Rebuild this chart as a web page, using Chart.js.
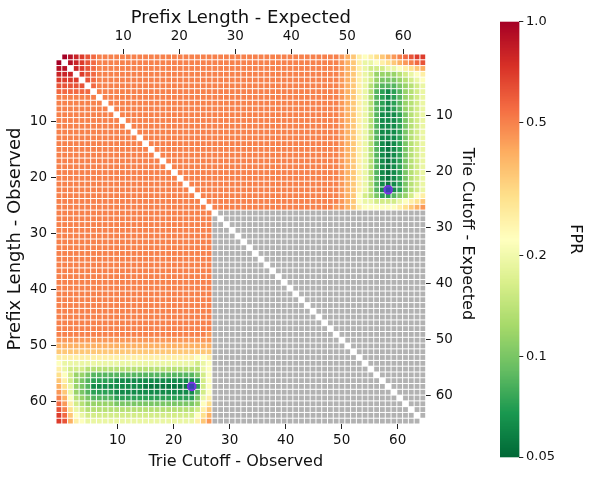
<!DOCTYPE html>
<html><head><meta charset="utf-8">
<script src="https://cdn.jsdelivr.net/npm/chart.js@4.4.0/dist/chart.umd.min.js"></script>
<style>
html,body{margin:0;padding:0;background:#fff;}
#wrap{position:relative;width:598px;height:481px;overflow:hidden;}
#main{position:absolute;left:0;top:0;}
#cbar{position:absolute;left:490px;top:0;}
</style></head><body>
<div id="wrap"><canvas id="main" width="598" height="481"></canvas><canvas id="cbar" width="108" height="481"></canvas></div>
<script>
// ---------------- data ----------------
// FPR levels: each character in the rows stands for one value
const levelChars  = "ABCDEFonmlkjihgfedcbaz";
const levelValues = [1.0,0.9,0.8,0.7,0.62,0.56,0.5,0.45,0.4,0.35,0.3,0.26,0.22,0.19,0.16,0.135,0.115,0.1,0.085,0.072,0.062,0.055];
// '.' = empty (white) cell, '#' = masked (grey) cell; x{n} = x repeated n times
const heatRows = [
".ABCDEFo{42}nmljijklmnoFEDD",
"A.BCDEFo{42}nmljhhijklmnoFE",
"BB.CDEFo{42}nmljhggghhijklm",
"CCC.DEFo{42}nmljhgeeeefghij",
"DDDD.EFo{42}nmljhgedddefghi",
"EEEEE.Fo{42}nmljhfdcccdefgh",
"FFFFFF.o{42}nmljhfcbabcefgh",
"o{7}.o{41}nmljhfcbabcefgh",
"o{8}.o{40}nmljhfcbabcefgh",
"o{9}.o{39}nmljhfcbabcefgh",
"o{10}.o{38}nmljhfcaaabdfgh",
"o{11}.o{37}nmljhfcaaabdfgh",
"o{12}.o{36}nmljhfcaaabdfgh",
"o{13}.o{35}nmljhfcaaabdfgh",
"o{14}.o{34}nmljhfcaaabdfgh",
"o{15}.o{33}nmljhfcazabdfgh",
"o{16}.o{32}nmljhfcazabdfgh",
"o{17}.o{31}nmljhfcazabdfgh",
"o{18}.o{30}nmljhfcazabdfgh",
"o{19}.o{29}nmljhfcazabdfgh",
"o{20}.o{28}nmljhfcazabdfgh",
"o{21}.o{27}nmljhfcazabdfgh",
"o{22}.o{26}nmljhfcazabdfgh",
"o{23}.o{25}nmljhfcazabdfgh",
"o{24}.o{24}nmligfdbbcdegij",
"o{25}.o{23}nmlihhgggghijkl",
"o{26}.o{21}nnmljiiiiiijklmn",
"o{27}.#{36}",
"o{27}#{1}.#{35}",
"o{27}#{2}.#{34}",
"o{27}#{3}.#{33}",
"o{27}#{4}.#{32}",
"o{27}#{5}.#{31}",
"o{27}#{6}.#{30}",
"o{27}#{7}.#{29}",
"o{27}#{8}.#{28}",
"o{27}#{9}.#{27}",
"o{27}#{10}.#{26}",
"o{27}#{11}.#{25}",
"o{27}#{12}.#{24}",
"o{27}#{13}.#{23}",
"o{27}#{14}.#{22}",
"o{27}#{15}.#{21}",
"o{27}#{16}.#{20}",
"o{27}#{17}.#{19}",
"o{27}#{18}.#{18}",
"o{27}#{19}.#{17}",
"o{27}#{20}.#{16}",
"o{26}n#{21}.#{15}",
"n{27}#{22}.#{14}",
"m{27}#{23}.#{13}",
"l{27}#{24}.#{12}",
"j{24}iij#{25}.#{11}",
"ih{23}ghi#{26}.#{10}",
"jhgggf{20}hi#{27}.#{9}",
"kigeedc{18}dgi#{28}.#{8}",
"ljgedcbbbba{14}bgi#{29}.#{7}",
"mkhedca{9}z{9}bgi#{30}.#{6}",
"nlhedcbbbba{14}cgi#{31}.#{5}",
"omifedccccb{14}dhj#{32}.#{4}",
"Fnjgfeeeeed{14}eik#{33}.#{3}",
"Eokhgf{19}gjl#{34}.#{2}",
"DFlihg{19}ikm#{35}.#{1}",
"DEmjih{19}jln#{36}."
];
const markerRows = [23, 57];
const markerCols = [57, 23];
const axisTicks = [10, 20, 30, 40, 50, 60];
const cbTicks = [1.0, 0.5, 0.2, 0.1, 0.05];
const cbTickLabels = ["1.0", "0.5", "0.2", "0.1", "0.05"];
const topTitle = "Prefix Length - Expected";
const leftTitle = "Prefix Length - Observed";
const bottomTitle = "Trie Cutoff - Observed  ";
const rightTitle = "Trie Cutoff - Expected  ";
const cbTitle = "FPR";
const vmin = 0.05, vmax = 1.0;

// ---------------- build matrix ----------------
const matrix = heatRows.map((s, i) => {
  const row = s.replace(/(.)\{(\d+)\}/g, (m, ch, n) => ch.repeat(+n));
  if (row.length !== 64) console.error('row', i, 'length', row.length);
  return Array.from(row).map(ch => {
    if (ch === '.') return null;
    if (ch === '#') return 'mask';
    return levelValues[levelChars.indexOf(ch)];
  });
});

// RdYlGn colour map (reversed) on a log norm
const rdylgn = ["#a50026","#d73027","#f46d43","#fdae61","#fee08b","#ffffbf","#d9ef8b","#a6d96a","#66bd63","#1a9850","#006837"];
const rgbStops = rdylgn.map(h => [parseInt(h.slice(1,3),16),parseInt(h.slice(3,5),16),parseInt(h.slice(5,7),16)]);
function colorFor(v) {
  let p = (Math.log(v) - Math.log(vmin)) / (Math.log(vmax) - Math.log(vmin));
  p = Math.min(1, Math.max(0, p));
  const t = (1 - p) * (rgbStops.length - 1);
  const i = Math.min(rgbStops.length - 2, Math.floor(t));
  const f = t - i;
  const a = rgbStops[i], b = rgbStops[i+1];
  return `rgb(${Math.round(a[0]+(b[0]-a[0])*f)},${Math.round(a[1]+(b[1]-a[1])*f)},${Math.round(a[2]+(b[2]-a[2])*f)})`;
}
const maskColor = '#b2b2b2';
const gap = 0.5;

Chart.defaults.font.family = "'DejaVu Sans', sans-serif";
Chart.defaults.color = '#111';

const heatPlugin = {
  id: 'heat',
  beforeDatasetsDraw(chart) {
    const ctx = chart.ctx, xs = chart.scales.xi, ys = chart.scales.yi;
    ctx.save();
    matrix.forEach((row, r) => row.forEach((v, c) => {
      if (v === null) return;
      const x0 = xs.getPixelForValue(c), x1 = xs.getPixelForValue(c + 1);
      const y0 = ys.getPixelForValue(r), y1 = ys.getPixelForValue(r + 1);
      ctx.fillStyle = v === 'mask' ? maskColor : colorFor(v);
      ctx.fillRect(Math.min(x0,x1) + gap, Math.min(y0,y1) + gap, Math.abs(x1-x0) - 2*gap, Math.abs(y1-y0) - 2*gap);
    }));
    ctx.restore();
  }
};

const tickFont = {size: 13.5};
const prefixFont = {size: 18};
const trieFont = {size: 16};
const gridOpts = {display: true, drawOnChartArea: false, drawTicks: true, tickLength: 5, color: '#222', lineWidth: 1};
const fixTicks = s => { s.ticks = axisTicks.map(v => ({value: v})); };

new Chart(document.getElementById('main'), {
  type: 'scatter',
  data: {
    datasets: [{
      data: markerRows.map((r, i) => ({x: markerCols[i] + 0.5, y: r + 0.5})),
      xAxisID: 'xi', yAxisID: 'yi',
      pointStyle: 'circle', pointRadius: 4,
      backgroundColor: 'rgba(65,60,195,0.85)', borderColor: '#7d2ae8', borderWidth: 1.5
    }]
  },
  options: {
    responsive: false, animation: false,
    layout: {padding: {left: 0, top: 0, bottom: 0, right: 112.3}},
    plugins: {legend: {display: false}, tooltip: {enabled: false}},
    scales: {
      xi: {axis: 'x', type: 'linear', min: 0, max: 64, display: false, position: 'bottom'},
      yi: {axis: 'y', type: 'linear', min: 0, max: 64, reverse: true, display: false, position: 'left'},
      xTop: {axis: 'x', type: 'linear', position: 'top', min: -2, max: 64,
        afterBuildTicks: fixTicks, afterFit: s => { s.height = 54; },
        ticks: {font: tickFont, padding: 4.3, autoSkip: false, maxRotation: 0},
        grid: gridOpts, border: {display: false},
        title: {display: true, text: topTitle, font: prefixFont, padding: {top: 7.2, bottom: 0}}},
      xBot: {axis: 'x', type: 'linear', position: 'bottom', min: -1, max: 65,
        afterBuildTicks: fixTicks, afterFit: s => { s.height = 57; },
        ticks: {font: tickFont, padding: 3.6, autoSkip: false, maxRotation: 0},
        grid: gridOpts, border: {display: false},
        title: {display: true, text: bottomTitle, font: trieFont, padding: {top: 0, bottom: 9.4}}},
      yLeft: {axis: 'y', type: 'linear', position: 'left', min: -2, max: 64, reverse: true,
        afterBuildTicks: fixTicks, afterFit: s => { s.width = 56; },
        ticks: {font: tickFont, padding: 4, autoSkip: false},
        grid: gridOpts, border: {display: false},
        title: {display: true, text: leftTitle, font: prefixFont, padding: {top: 5, bottom: 0}}},
      yRight: {axis: 'y', type: 'linear', position: 'right', min: -1, max: 65, reverse: true,
        afterBuildTicks: fixTicks, afterFit: s => { s.width = 60; },
        ticks: {font: tickFont, padding: 5, autoSkip: false},
        grid: gridOpts, border: {display: false},
        title: {display: true, text: rightTitle, font: trieFont, padding: {top: 8.6, bottom: 0}}}
    }
  },
  plugins: [heatPlugin]
});

const cbPlugin = {
  id: 'cbgrad',
  beforeDatasetsDraw(chart) {
    const ctx = chart.ctx, a = chart.chartArea, ys = chart.scales.y;
    ctx.save();
    for (let py = a.top; py < a.bottom; py += 1) {
      const h = Math.min(1, a.bottom - py);
      const v = ys.getValueForPixel(py + h / 2);
      ctx.fillStyle = colorFor(v);
      ctx.fillRect(a.left, py, a.right - a.left, h + 0.3);
    }
    ctx.restore();
  }
};

new Chart(document.getElementById('cbar'), {
  type: 'scatter',
  data: {datasets: []},
  options: {
    responsive: false, animation: false,
    layout: {padding: {left: 10, top: 21.7, bottom: 24, right: 0}},
    plugins: {legend: {display: false}, tooltip: {enabled: false}},
    scales: {
      x: {type: 'linear', min: 0, max: 1, display: false},
      y: {type: 'logarithmic', position: 'right', min: vmin, max: vmax,
        afterBuildTicks: s => { s.ticks = cbTicks.map(v => ({value: v})); },
        afterFit: s => { s.width = 78.7; },
        ticks: {font: {size: 13}, padding: 2.7, autoSkip: false,
          callback: v => { const i = cbTicks.findIndex(t => Math.abs(t - v) < 1e-9); return i >= 0 ? cbTickLabels[i] : ''; }},
        grid: {display: true, drawOnChartArea: false, drawTicks: true, tickLength: 4, color: '#222', lineWidth: 1},
        border: {display: false},
        title: {display: true, text: cbTitle, font: {size: 16}, padding: {top: 13.4, bottom: 0}}}
    }
  },
  plugins: [cbPlugin]
});
</script></body></html>
